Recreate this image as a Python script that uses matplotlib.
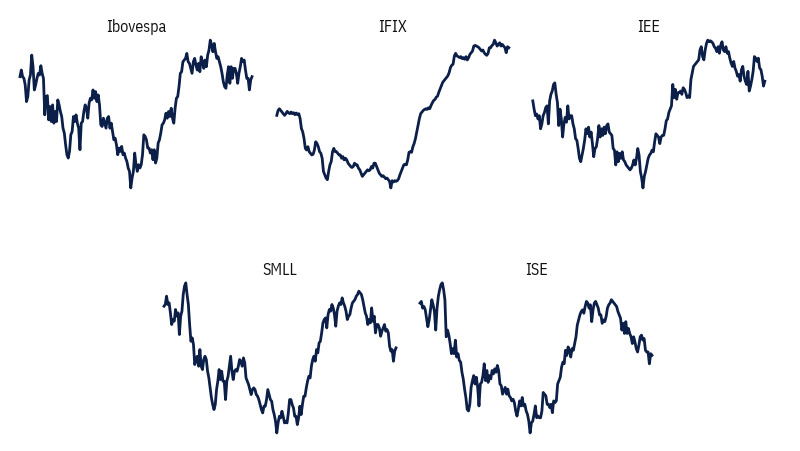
import matplotlib
matplotlib.use("Agg")
import matplotlib.pyplot as plt
import numpy as np

plt.rcParams['font.family'] = ['Liberation Sans Narrow', 'IBM Plex Sans Condensed', 'Liberation Sans', 'DejaVu Sans']

# index levels (arbitrary units, evenly spaced in time)
ibovespa = [395, 415, 395, 390, 370, 320, 335, 385, 400, 460, 425, 355, 370, 390, 405, 400, 428, 405, 390,
            280, 335, 338, 265, 305, 260, 310, 255, 290, 260, 325, 310, 290, 275, 240, 225, 190, 160, 150,
            170, 220, 230, 275, 260, 280, 255, 240, 175, 255, 260, 290, 310, 300, 270, 315, 330, 325, 355,
            330, 350, 320, 340, 310, 250, 245, 270, 255, 240, 270, 275, 240, 255, 230, 205, 210, 190, 160,
            180, 170, 185, 160, 165, 150, 140, 120, 110, 60, 90, 110, 165, 130, 110, 130, 120, 130, 160,
            220, 215, 205, 180, 180, 165, 175, 145, 175, 135, 150, 195, 205, 225, 250, 255, 265, 285, 270,
            290, 275, 300, 270, 255, 300, 330, 335, 365, 405, 410, 440, 445, 450, 465, 440, 435, 420, 405,
            440, 450, 430, 415, 435, 410, 455, 440, 420, 445, 425, 460, 475, 505, 490, 470, 495, 470, 450,
            455, 440, 425, 405, 380, 365, 360, 400, 425, 375, 425, 390, 420, 420, 405, 375, 405, 425, 450,
            440, 445, 415, 390, 390, 355, 385, 395]

ifix = [280, 295, 300, 295, 290, 285, 280, 285, 292, 288, 285, 290, 285, 288, 282, 287, 282, 285, 270,
        240, 230, 210, 180, 175, 185, 170, 165, 160, 162, 175, 200, 195, 185, 170, 165, 150, 110, 100,
        90, 85, 110, 130, 140, 170, 180, 170, 170, 165, 160, 160, 150, 155, 145, 150, 145, 135, 130, 125,
        122, 125, 135, 130, 130, 120, 115, 105, 95, 100, 105, 110, 115, 112, 115, 125, 120, 135, 135,
        125, 115, 105, 100, 95, 97, 93, 88, 90, 85, 80, 60, 82, 78, 82, 80, 82, 88, 100, 110, 120, 130,
        132, 130, 145, 168, 170, 168, 185, 195, 210, 230, 250, 270, 285, 290, 295, 298, 300, 298, 303,
        300, 310, 318, 325, 328, 335, 338, 350, 360, 370, 380, 385, 390, 395, 400, 410, 425, 432, 435,
        460, 468, 460, 458, 455, 458, 452, 455, 450, 458, 448, 455, 465, 470, 475, 490, 492, 490, 488,
        485, 480, 475, 478, 470, 465, 462, 468, 485, 485, 492, 495, 508, 500, 490, 495, 500, 490, 495,
        490, 485, 470, 488, 485]

iee = [325, 300, 280, 285, 270, 280, 240, 255, 280, 290, 305, 310, 255, 325, 345, 355, 375, 380, 345, 320,
       250, 300, 270, 215, 255, 275, 260, 310, 270, 280, 280, 255, 240, 210, 205, 180, 150, 140, 160, 180,
       205, 240, 225, 245, 215, 230, 195, 155, 180, 185, 210, 250, 215, 240, 220, 245, 225, 250, 255, 230,
       225, 220, 180, 175, 130, 170, 140, 165, 150, 170, 145, 140, 130, 125, 120, 115, 120, 130, 145, 130,
       150, 180, 160, 110, 90, 60, 95, 110, 130, 150, 160, 165, 175, 170, 200, 225, 220, 215, 195, 215,
       220, 220, 240, 265, 270, 290, 300, 310, 375, 335, 360, 330, 350, 350, 355, 345, 365, 360, 350, 335,
       340, 335, 390, 410, 430, 435, 440, 445, 450, 480, 490, 460, 450, 480, 500, 510, 505, 508, 505, 500,
       490, 485, 475, 490, 470, 495, 505, 480, 475, 490, 470, 475, 455, 440, 430, 445, 425, 415, 400, 405,
       385, 420, 430, 400, 385, 375, 415, 355, 370, 390, 415, 460, 455, 445, 455, 425, 420, 400, 370, 385]

smll = [440, 445, 470, 445, 450, 420, 385, 400, 395, 430, 410, 420, 355, 410, 425, 475, 500, 510, 475, 445,
        385, 335, 345, 325, 265, 280, 290, 260, 310, 260, 250, 280, 290, 280, 245, 225, 195, 165, 145, 130,
        145, 190, 215, 250, 220, 245, 215, 215, 160, 215, 230, 260, 290, 245, 220, 245, 250, 245, 260, 280,
        275, 260, 285, 270, 225, 215, 205, 190, 175, 190, 195, 190, 175, 170, 160, 145, 130, 120, 140, 140,
        160, 190, 175, 160, 155, 130, 115, 95, 60, 90, 110, 105, 125, 110, 90, 95, 90, 120, 160, 160, 145,
        135, 110, 110, 85, 105, 140, 115, 145, 170, 170, 195, 215, 230, 225, 260, 280, 290, 275, 310, 300,
        330, 335, 360, 390, 400, 405, 375, 415, 430, 425, 445, 435, 415, 380, 425, 440, 450, 445, 465, 450,
        440, 425, 400, 410, 415, 435, 450, 455, 460, 470, 475, 485, 480, 475, 460, 440, 420, 410, 385, 400,
        390, 435, 395, 410, 360, 385, 385, 375, 350, 365, 375, 385, 365, 370, 360, 320, 305, 310, 275, 305,
        315]

ise = [450, 455, 435, 440, 430, 405, 380, 400, 430, 460, 445, 425, 370, 435, 470, 490, 505, 510, 490, 460,
       350, 370, 355, 330, 300, 315, 300, 340, 290, 300, 280, 275, 245, 225, 195, 170, 135, 130, 150, 200,
       220, 235, 210, 230, 200, 145, 210, 215, 235, 270, 220, 250, 215, 235, 225, 250, 240, 255, 245, 265,
       250, 210, 205, 180, 190, 200, 180, 195, 175, 170, 160, 165, 155, 130, 115, 135, 160, 145, 170, 145,
       150, 130, 120, 100, 65, 95, 100, 120, 145, 110, 115, 110, 110, 130, 185, 180, 175, 150, 150, 140,
       150, 125, 160, 155, 160, 210, 220, 230, 260, 275, 270, 310, 295, 320, 310, 290, 315, 310, 330, 350,
       385, 400, 415, 425, 430, 420, 440, 455, 450, 435, 445, 395, 430, 450, 455, 445, 435, 415, 415, 390,
       400, 395, 410, 435, 445, 450, 460, 455, 450, 445, 440, 425, 415, 405, 370, 390, 360, 395, 360, 375,
       360, 350, 330, 350, 335, 315, 305, 325, 350, 355, 340, 345, 310, 305, 305, 270, 300, 295]

titles = ["Ibovespa", "IFIX", "IEE", "SMLL", "ISE"]
series = [ibovespa, ifix, iee, smll, ise]

# axes rectangles in figure fractions
boxes = [
    [0.025, 0.582, 0.290, 0.327],
    [0.346, 0.582, 0.290, 0.327],
    [0.666, 0.582, 0.290, 0.327],
    [0.205, 0.040, 0.290, 0.332],
    [0.525, 0.040, 0.290, 0.332],
]

navy = "#0b1f48"

fig = plt.figure(figsize=(8, 4.52), dpi=100)
fig.patch.set_facecolor("white")

for title, vals, box in zip(titles, series, boxes):
    ax = fig.add_axes(box)
    y = np.array(vals, dtype=float)
    x = np.arange(len(y))
    ax.plot(x, y, color=navy, lw=2.0, clip_on=False, solid_joinstyle="round")
    ax.set_xlim(0, len(y) - 1)
    ax.set_ylim(y.min(), y.max())
    ax.set_axis_off()
    ax.set_title(title, fontsize=11.5, color="#111111", pad=6.5)

fig.savefig("out.png", dpi=100, facecolor="white")
